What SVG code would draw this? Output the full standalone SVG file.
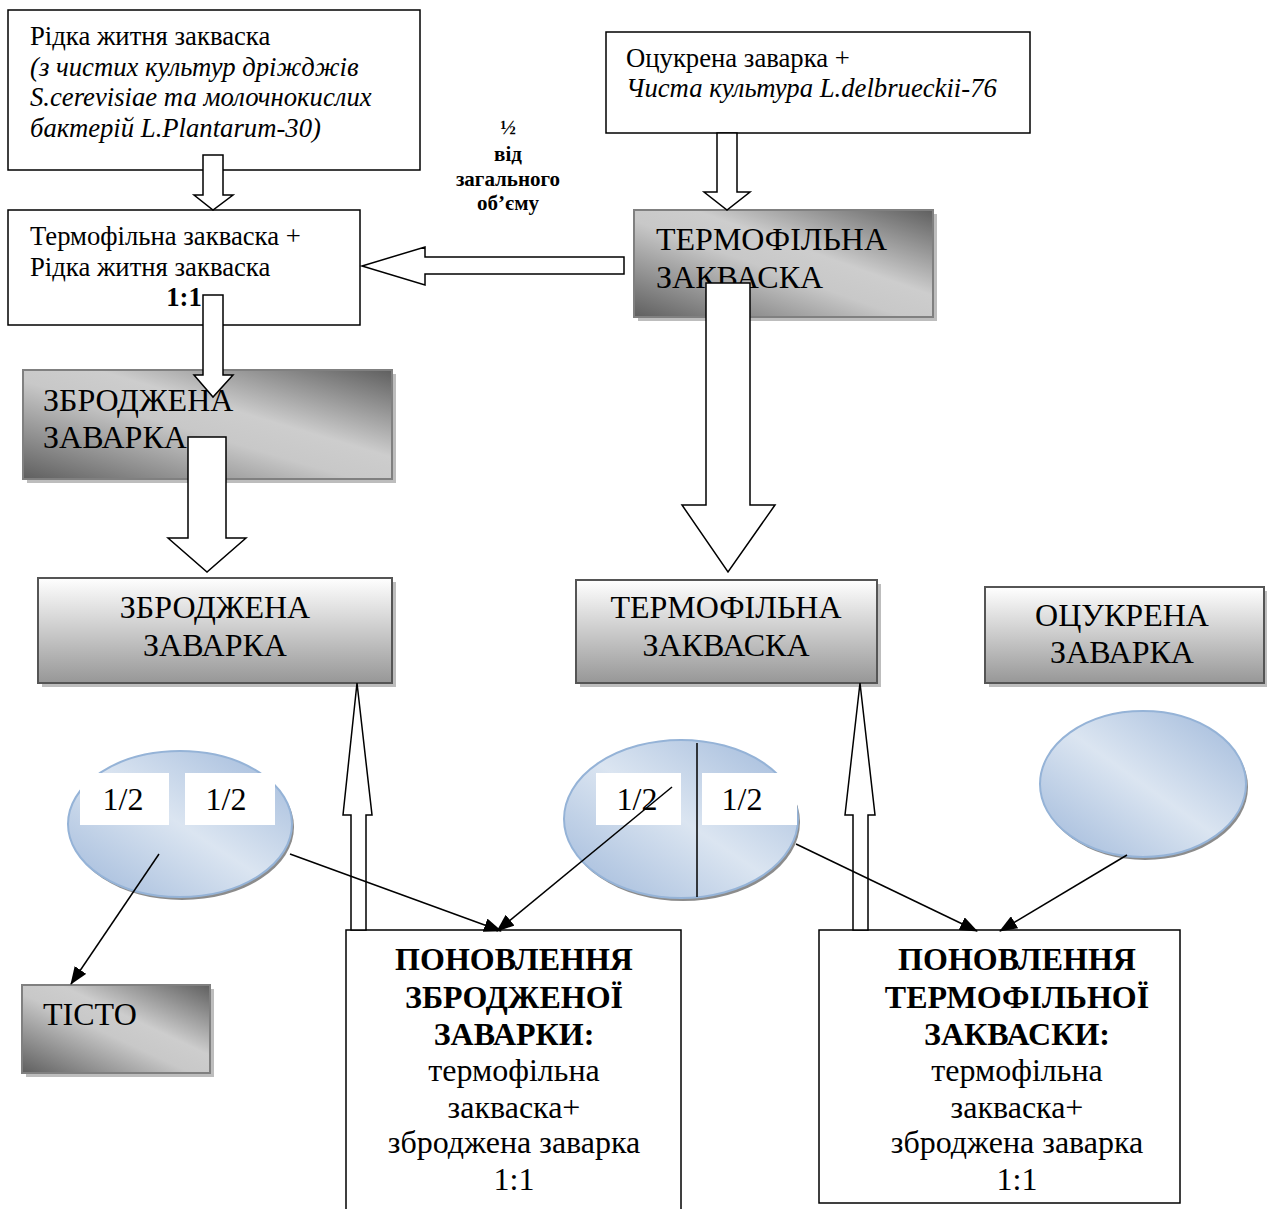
<svg xmlns="http://www.w3.org/2000/svg" width="1267" height="1209" viewBox="0 0 1267 1209">
<style>
text{font-family:"Liberation Serif","Times New Roman",serif;fill:#000}
.t21{font-size:26.7px}
.it{font-style:italic}
.big{font-size:32px}
.mid{text-anchor:middle}
.b{font-weight:bold}
.lbl{font-size:21px;font-weight:bold;text-anchor:middle}
.box{fill:#fff;stroke:#000;stroke-width:1.5}
.dark{fill:url(#gDark);stroke:#808080;stroke-width:2}
.light{fill:url(#gLight);stroke:#555;stroke-width:2}
.shadow{fill:#bdbdbd}
.ell{fill:url(#gBlue);stroke:#95b3d7;stroke-width:2}
.eshadow{fill:#8c8c8c}
.blk{fill:#fff;stroke:#000;stroke-width:1.5}
.con{stroke:#000;stroke-width:1.5;fill:none;marker-end:url(#ah)}
.wb{fill:#fff}
</style>
<defs>
<linearGradient id="gDark" x1="0" y1="1" x2="1" y2="0">
<stop offset="0" stop-color="#5f5f5f"/>
<stop offset="0.45" stop-color="#c8c8c8"/>
<stop offset="0.6" stop-color="#cdcdcd"/>
<stop offset="1" stop-color="#5f5f5f"/>
</linearGradient>
<linearGradient id="gLight" x1="0" y1="0" x2="0" y2="1">
<stop offset="0" stop-color="#ffffff"/>
<stop offset="1" stop-color="#979797"/>
</linearGradient>
<linearGradient id="gBlue" x1="0" y1="1" x2="1" y2="0">
<stop offset="0" stop-color="#9fb8da"/>
<stop offset="0.5" stop-color="#dbe5f1"/>
<stop offset="1" stop-color="#9fb8da"/>
</linearGradient>
<marker id="ah" markerUnits="userSpaceOnUse" markerWidth="18" markerHeight="14" refX="17" refY="7" orient="auto">
<path d="M0,0 L18,7 L0,14 Z" fill="#000"/>
</marker>
</defs>

<g id="node-ridka">
<rect class="box" x="8" y="10" width="412" height="160"/>
<text class="t21" x="30" y="45">Рідка житня закваска</text>
<text class="t21 it" x="30" y="76">(з чистих культур дріжджів</text>
<text class="t21 it" x="30" y="106">S.cerevisiae та молочнокислих</text>
<text class="t21 it" x="30" y="137">бактерій L.Plantarum-30)</text>
</g>

<g id="node-sumish">
<rect class="box" x="8" y="210" width="352" height="115"/>
<text class="t21" x="30" y="245">Термофільна закваска +</text>
<text class="t21" x="30" y="276">Рідка житня закваска</text>
<text class="t21 b mid" x="184" y="306">1:1</text>
</g>

<g id="node-otsukrena-top">
<rect class="box" x="606" y="32" width="424" height="101"/>
<text class="t21" x="626" y="67">Оцукрена заварка +</text>
<text class="t21 it" x="626" y="97">Чиста культура L.delbrueckii-76</text>
</g>

<g id="node-termo-top">
<rect class="shadow" x="638" y="214" width="299" height="107"/>
<rect class="dark" x="634" y="210" width="299" height="107"/>
<text class="big" x="656" y="250">ТЕРМОФІЛЬНА</text>
<text class="big" x="656" y="288">ЗАКВАСКА</text>
</g>

<g id="node-zbrodzh-top">
<rect class="shadow" x="27" y="374" width="369" height="109"/>
<rect class="dark" x="23" y="370" width="369" height="109"/>
<text class="big" x="43" y="411">ЗБРОДЖЕНА</text>
<text class="big" x="43" y="448">ЗАВАРКА</text>
</g>

<g id="node-zbrodzh">
<rect class="shadow" x="42" y="582" width="354" height="105"/>
<rect class="light" x="38" y="578" width="354" height="105"/>
<text class="big mid" x="215" y="618">ЗБРОДЖЕНА</text>
<text class="big mid" x="215" y="656">ЗАВАРКА</text>
</g>

<g id="node-termo">
<rect class="shadow" x="580" y="584" width="301" height="103"/>
<rect class="light" x="576" y="580" width="301" height="103"/>
<text class="big mid" x="726" y="618">ТЕРМОФІЛЬНА</text>
<text class="big mid" x="726" y="656">ЗАКВАСКА</text>
</g>

<g id="node-otsukrena">
<rect class="shadow" x="989" y="591" width="279" height="96"/>
<rect class="light" x="985" y="587" width="279" height="96"/>
<text class="big mid" x="1122" y="626">ОЦУКРЕНА</text>
<text class="big mid" x="1122" y="663">ЗАВАРКА</text>
</g>

<g id="node-ell-left">
<ellipse class="eshadow" cx="182" cy="827" rx="112" ry="73"/>
<ellipse class="ell" cx="180" cy="824" rx="112" ry="73"/>
<rect class="wb" x="80" y="773" width="89" height="52"/>
<rect class="wb" x="185" y="773" width="90" height="52"/>
<text class="big mid" x="123" y="810">1/2</text>
<text class="big mid" x="226" y="810">1/2</text>
</g>

<g id="node-ell-mid">
<ellipse class="eshadow" cx="683" cy="822" rx="117" ry="79"/>
<ellipse class="ell" cx="681" cy="819" rx="117" ry="79"/>
<line x1="697" y1="743" x2="697" y2="897" stroke="#000" stroke-width="1.5"/>
<rect class="wb" x="596" y="773" width="85" height="52"/>
<rect class="wb" x="702" y="773" width="95" height="52"/>
<text class="big mid" x="637" y="810">1/2</text>
<text class="big mid" x="742" y="810">1/2</text>
</g>

<g id="node-ell-right">
<ellipse class="eshadow" cx="1145" cy="787" rx="103" ry="73"/>
<ellipse class="ell" cx="1143" cy="784" rx="103" ry="73"/>
</g>

<g id="node-tisto">
<rect class="shadow" x="26" y="989" width="188" height="88"/>
<rect class="dark" x="22" y="985" width="188" height="88"/>
<text class="big" x="43" y="1025">ТІСТО</text>
</g>

<g id="node-ponov-zbr">
<rect class="box" x="346" y="930" width="335" height="290"/>
<text class="big b mid" x="514" y="970">ПОНОВЛЕННЯ</text>
<text class="big b mid" x="514" y="1008">ЗБРОДЖЕНОЇ</text>
<text class="big b mid" x="514" y="1045">ЗАВАРКИ:</text>
<text class="big mid" x="514" y="1081">термофільна</text>
<text class="big mid" x="514" y="1118">закваска+</text>
<text class="big mid" x="514" y="1153">зброджена заварка</text>
<text class="big mid" x="514" y="1190">1:1</text>
</g>

<g id="node-ponov-term">
<rect class="box" x="819" y="930" width="361" height="273"/>
<text class="big b mid" x="1017" y="970">ПОНОВЛЕННЯ</text>
<text class="big b mid" x="1017" y="1008">ТЕРМОФІЛЬНОЇ</text>
<text class="big b mid" x="1017" y="1045">ЗАКВАСКИ:</text>
<text class="big mid" x="1017" y="1081">термофільна</text>
<text class="big mid" x="1017" y="1118">закваска+</text>
<text class="big mid" x="1017" y="1153">зброджена заварка</text>
<text class="big mid" x="1017" y="1190">1:1</text>
</g>

<g id="label-half">
<text class="lbl" x="508" y="134">½</text>
<text class="lbl" x="508" y="161">від</text>
<text class="lbl" x="508" y="186">загального</text>
<text class="lbl" x="508" y="210">об’єму</text>
</g>

<g id="connectors">
<polygon class="blk" points="203,155 223,155 223,195 233,195 213,210 194,195 203,195"/>
<polygon class="blk" points="717,133 737,133 737,192 750,192 727,210 704,192 717,192"/>
<polygon class="blk" points="624,257 624,274 425,274 425,285 362,266 425,247 425,257"/>
<polygon class="blk" points="203,295 223,295 223,375 233,375 213,397 194,375 203,375"/>
<polygon class="blk" points="188,437 226,437 226,538 246,538 207,572 168,538 188,538"/>
<polygon class="blk" points="706,283 750,283 750,505 775,505 728,572 682,505 706,505"/>
<polygon class="blk" points="351,930 351,815 343,815 357,683 372,815 366,815 366,930"/>
<polygon class="blk" points="853,930 853,815 845,815 860,683 875,815 868,815 868,930"/>
<line class="con" x1="159" y1="854" x2="71" y2="984"/>
<line class="con" x1="290" y1="854" x2="501" y2="931"/>
<line class="con" x1="672" y1="787" x2="497" y2="931"/>
<line class="con" x1="796" y1="844" x2="977" y2="931"/>
<line class="con" x1="1127" y1="855" x2="1000" y2="931"/>
</g>
</svg>
